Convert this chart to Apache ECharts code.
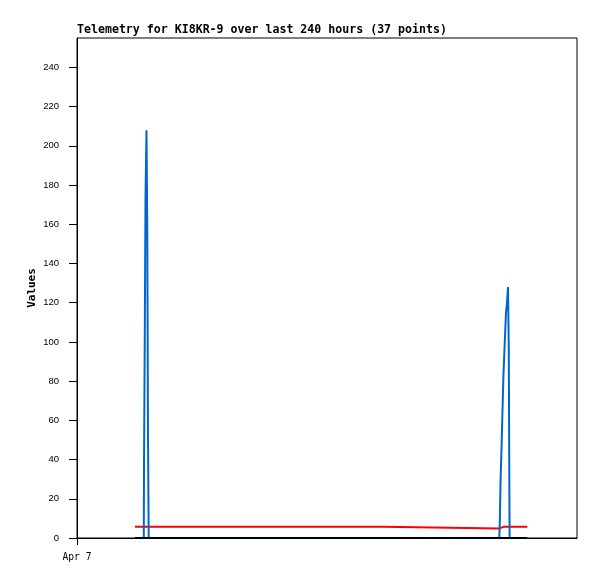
<!DOCTYPE html>
<html>
<head>
<meta charset="utf-8">
<script src="https://cdn.jsdelivr.net/npm/echarts@6/dist/echarts.min.js"></script>
<style>
  html, body { margin: 0; padding: 0; background: #fff; }
  #chart { width: 597px; height: 579px; }
</style>
</head>
<body>
<div id="chart"></div>
<script>
// hours since start of axis (Apr 7), 240 h window
var hours = [27.84, 32.06, 32.16, 32.54, 32.88, 33.36, 33.74, 34.08, 34.42,
  147.0, 147.3, 202.7, 202.9, 203.0, 203.28, 203.8, 204.24, 204.72, 204.96,
  205.44, 205.92, 206.4, 206.88, 207.26, 207.5, 207.65, 216.14];
var blueVals = [0, 0, 35, 104, 174, 208, 156, 52, 0,
  0, 0, 0, 0, 10, 28, 47, 65, 84, 90,
  103, 115, 120, 128, 96, 32, 0, 0];
var redVals = [5.8, 5.8, 5.8, 5.8, 5.8, 5.8, 5.8, 5.8, 5.8,
  5.8, 4.8, 4.8, 4.8, 4.8, 4.8, 5.3, 5.3, 5.3, 5.8,
  5.8, 5.8, 5.8, 5.8, 5.8, 5.8, 5.8, 5.8];
var blackVals = [0, 0, 0, 0, 0, 0, 0, 0, 0,
  0, 0, 0, 0, 0, 0, 0, 0, 0, 0,
  0, 0, 0, 0, 0, 0, 0, 0];
var yTicks = [0, 20, 40, 60, 80, 100, 120, 140, 160, 180, 200, 220, 240];
var xTicks = [0];
var xTickLabels = ['Apr 7'];

function pairs(vals) {
  return hours.map(function (h, i) { return [h, vals[i]]; });
}

var chart = echarts.init(document.getElementById('chart'));
var option = {
  animation: false,
  backgroundColor: '#fff',
  title: {
    text: 'Telemetry for KI8KR-9 over last 240 hours (37 points)',
    left: 77,
    top: 24,
    padding: 0,
    textStyle: {
      fontFamily: 'DejaVu Sans Mono',
      fontWeight: 'bold',
      fontSize: 11.6,
      color: '#000'
    }
  },
  grid: {
    left: 77,
    top: 38,
    width: 500,
    height: 500,
    show: true,
    borderColor: '#000',
    borderWidth: 1,
    backgroundColor: '#fff'
  },
  xAxis: {
    type: 'value',
    min: 0,
    max: 240,
    axisLine: { onZero: false, lineStyle: { color: '#000', width: 1 } },
    axisTick: { show: true, length: 7, customValues: xTicks, lineStyle: { color: '#000' } },
    axisLabel: {
      customValues: xTicks,
      margin: 14,
      fontFamily: 'DejaVu Sans Mono',
      fontSize: 9.6,
      color: '#000',
      formatter: function (v) { return xTickLabels[xTicks.indexOf(v)] || ''; }
    },
    splitLine: { show: false }
  },
  yAxis: {
    type: 'value',
    min: 0,
    max: 255,
    name: 'Values',
    nameLocation: 'middle',
    nameGap: 39,
    nameMoveOverlap: false,
    nameTextStyle: {
      fontFamily: 'DejaVu Sans Mono',
      fontWeight: 'bold',
      fontSize: 11,
      color: '#000'
    },
    axisLine: { show: true, lineStyle: { color: '#000', width: 1 } },
    axisTick: { show: true, length: 8, customValues: yTicks, lineStyle: { color: '#000' } },
    axisLabel: {
      customValues: yTicks,
      margin: 18,
      fontFamily: 'Liberation Sans',
      fontSize: 9.5,
      color: '#000'
    },
    splitLine: { show: false }
  },
  series: [
    {
      name: 'red',
      type: 'line',
      data: pairs(redVals),
      showSymbol: false,
      lineStyle: { color: '#ff0000', width: 2 },
      z: 2
    },
    {
      name: 'blue',
      type: 'line',
      data: pairs(blueVals),
      showSymbol: false,
      lineStyle: { color: '#0066cc', width: 2 },
      z: 3
    },
    {
      name: 'black',
      type: 'line',
      data: pairs(blackVals),
      showSymbol: false,
      lineStyle: { color: '#000', width: 2 },
      z: 4
    }
  ]
};
chart.setOption(option);
</script>
</body>
</html>
